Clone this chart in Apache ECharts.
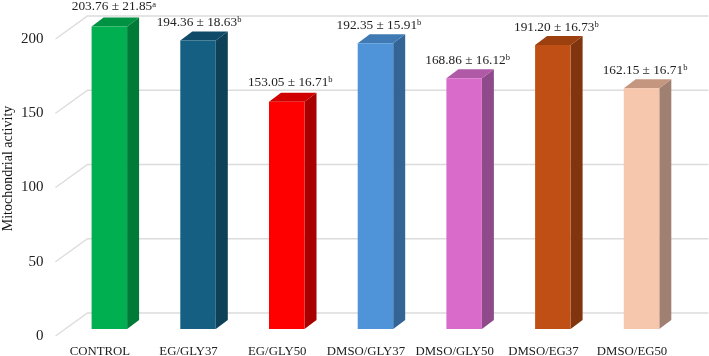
<!DOCTYPE html>
<html><head><meta charset="utf-8">
<style>html,body{margin:0;padding:0;background:#fff}#c{width:709px;height:356px}</style>
<script src="https://cdn.jsdelivr.net/npm/echarts@6/dist/echarts.min.js"></script>
</head><body><div id="c"></div>
<script>
const categories = ['CONTROL','EG/GLY37','EG/GLY50','DMSO/GLY37','DMSO/GLY50','DMSO/EG37','DMSO/EG50'];
const means = [203.76,194.36,153.05,192.35,168.86,191.20,162.15];
const sds = ['21.85','18.63','16.71','15.91','16.12','16.73','16.71'];
const letters = ['a','b','b','b','b','b','b'];
const yTicks = [0,50,100,150,200];
const yTitle = 'Mitochondrial activity';
const frontColors = ['#00b050','#156082','#ff0000','#4f94d9','#d96ccb','#c04f15','#f6c6ad'];
const sideColors = ['#007a37','#0e4058','#a80000','#346495','#8f4a8c','#80350e','#a08070'];
const topColors = ['#009243','#0f4b68','#d00000','#3f7ab5','#b059a6','#9c4010','#c4957f'];

const SERIF = '"Liberation Serif","Times New Roman",serif';
const WALL = [32,-23], FLOOR = [9.5,-7], DEPTH = [12,-9], BAR_W = 35.5;
const labelNudge = [[1,-1.5],[-2.5,0],[0,-1],[0,0],[0,0],[0,0],[0,0]];

const chart = echarts.init(document.getElementById('c'), null, {renderer:'canvas'});
chart.setOption({
  animation:false,
  backgroundColor:'#fff',
  grid:{left:55.5,right:32.6,top:39,bottom:20,containLabel:false,outerBoundsMode:'none'},
  graphic:[{type:'text',x:8,y:168.5,rotation:Math.PI/2,silent:true,
    style:{text:yTitle,align:'center',verticalAlign:'middle',font:'14px '+SERIF,fill:'#111'}}],
  xAxis:{type:'category',data:categories,axisLine:{show:false},axisTick:{show:false},
    axisLabel:{interval:0,margin:9,fontFamily:SERIF,fontSize:12.8,color:'#222'}},
  yAxis:{type:'value',min:0,max:200,interval:50,splitLine:{show:false},axisLine:{show:false},axisTick:{show:false},
    axisLabel:{margin:12,fontFamily:SERIF,fontSize:15,color:'#222'}},
  series:[
    {type:'custom',silent:true,z:1,data:yTicks.map(v=>[0,v]),encode:{y:1},
     renderItem(params,api){
       const cs=params.coordSys, y=api.coord([0,api.value(1)])[1];
       const style={stroke:'#dcdcdc',lineWidth:1.3,fill:null};
       return {type:'polyline',shape:{points:[[cs.x,y],[cs.x+WALL[0],y+WALL[1]],[cs.x+cs.width+WALL[0],y+WALL[1]]]},style};
     }},
    {type:'custom',silent:true,z:2,data:means.map((v,i)=>[i,v]),
     renderItem(params,api){
       const i=params.dataIndex;
       const p0=api.coord([api.value(0),0]), p1=api.coord([api.value(0),api.value(1)]);
       const l=p0[0]+FLOOR[0]-BAR_W/2, r=l+BAR_W, b=p0[1]+FLOOR[1], t=p1[1]+FLOOR[1];
       const dx=DEPTH[0], dy=DEPTH[1];
       return {type:'group',children:[
         {type:'polygon',shape:{points:[[r,t],[r+dx,t+dy],[r+dx,b+dy],[r,b]]},style:{fill:sideColors[i]}},
         {type:'polygon',shape:{points:[[l,t],[l+dx,t+dy],[r+dx,t+dy],[r,t]]},style:{fill:topColors[i]}},
         {type:'rect',shape:{x:l,y:t,width:BAR_W,height:b-t},style:{fill:frontColors[i]}},
         {type:'text',style:{x:(l+r)/2+3.5+labelNudge[i][0],y:t+dy-2+labelNudge[i][1],align:'center',verticalAlign:'bottom',
            text:means[i].toFixed(2)+' ± '+sds[i]+'{s|'+letters[i]+'}',
            font:'13.3px '+SERIF,fill:'#222',
            rich:{s:{fontSize:8.5,fontFamily:SERIF,fill:'#222',verticalAlign:'top',padding:[0,0,5,0]}}}}
       ]};
     }}
  ]
});
</script></body></html>
